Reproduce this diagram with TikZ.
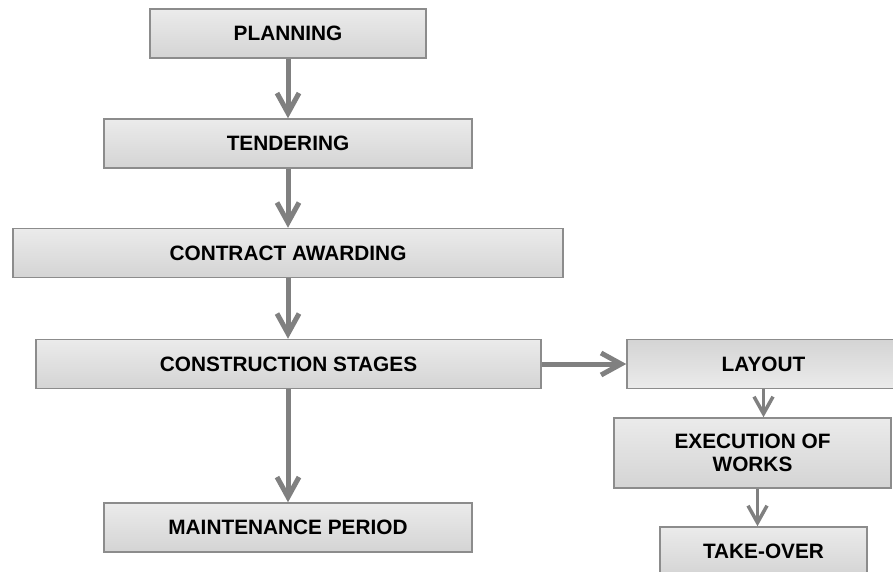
\documentclass[tikz,border=0pt]{standalone}
\usepackage{fontspec}
\setmainfont{Liberation Sans}
\usetikzlibrary{arrows.meta}
\definecolor{boxtop}{HTML}{EBEBEB}
\definecolor{boxbottom}{HTML}{D4D4D4}
\definecolor{boxline}{HTML}{8C8C8C}
\definecolor{arrowgray}{HTML}{808080}
\begin{document}
\begin{tikzpicture}[x=1pt, y=-1pt,
		every node/.style = {draw=boxline, line width=1.5pt, top color=boxtop, bottom color=boxbottom,
			align=center, inner sep=0pt, minimum height=49pt, font=\fontsize{20.8}{23}\selectfont\bfseries},
		flow/.style = {draw=arrowgray, line width=5pt, -{Straight Barb[length=20pt, width=22pt]}},
		smallflow/.style = {flow, line width=3.5pt, -{Straight Barb[length=17pt, width=19pt]}}]
		
		\useasboundingbox (0,0) rectangle (893,572);
		\clip (0,0) rectangle (893,572);
		
		% main chain
		\node[minimum width=276pt] (plan) at (288,33.5) {PLANNING};
		\node[minimum width=368pt] (tender) at (288,143.5) {TENDERING};
		\node[minimum width=550pt] (award) at (288,253) {CONTRACT AWARDING};
		\node[minimum width=505pt] (constr) at (288.5,364) {CONSTRUCTION STAGES};
		\node[minimum width=368pt] (maint) at (288,527.5) {MAINTENANCE PERIOD};
		
		% construction stages
		\node[minimum width=273pt, top color=boxbottom, bottom color=boxtop] (layout) at (763.5,364) {LAYOUT};
		\node[minimum width=277pt, minimum height=70pt] (exec) at (752.5,453) {EXECUTION OF\\WORKS};
		\node[minimum width=207pt] (takeover) at (763.5,551.5) {TAKE-OVER};
		
		\draw[flow] (plan) -- (tender);
		\draw[flow] (tender) -- (award);
		\draw[flow] (award) -- (constr.north -| award.south);
		\draw[flow] (constr.south -| award.south) -- (maint.north -| award.south);
		\draw[flow] (constr) -- (layout);
		\draw[smallflow] (layout.south) -- (layout.south |- exec.north);
		\draw[smallflow] ([xshift=5pt]exec.south) -- ([xshift=5pt]exec.south |- takeover.north);
		\end{tikzpicture}
\end{document}
